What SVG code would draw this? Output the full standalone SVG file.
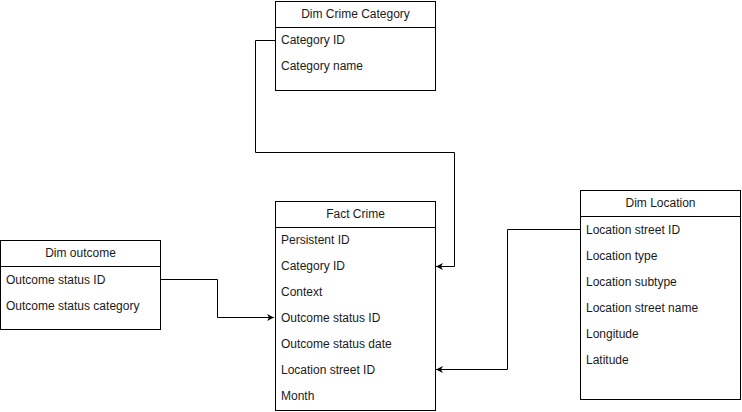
<svg xmlns="http://www.w3.org/2000/svg" width="742" height="412" viewBox="0 0 742 412">
<style>
.box{fill:#fff;stroke:#000;stroke-width:1}
.sep{stroke:#000;stroke-width:1}
text{font-family:"Liberation Sans",Arial,sans-serif;font-size:12px;fill:#1a1a1a}
.h{text-anchor:middle}
.c{fill:none;stroke:#000;stroke-width:1}
</style>
<defs>
<marker id="arr" markerWidth="8" markerHeight="8" refX="7" refY="4" orient="auto" markerUnits="userSpaceOnUse">
<path d="M0,0.5 L7,4 L0,7.5 L2,4 Z" fill="#000"/>
</marker>
</defs>
<g id="connectors">
<path class="c" d="M275.5,40.5 H255.5 V152.5 H454.5 V266.5 H436" marker-end="url(#arr)"/>
<path class="c" d="M160.5,279.5 H217.5 V317.5 H274" marker-end="url(#arr)"/>
<path class="c" d="M580.5,229.5 H507.5 V369.5 H436" marker-end="url(#arr)"/>
</g>
<g id="dim-crime-category">
<rect class="box" x="275.5" y="1.5" width="160" height="89"/>
<line class="sep" x1="275.5" y1="27.5" x2="435.5" y2="27.5"/>
<text class="h" x="355.5" y="18">Dim Crime Category</text>
<text x="281" y="44">Category ID</text>
<text x="281" y="70">Category name</text>
</g>
<g id="fact-crime">
<rect class="box" x="275.5" y="201.5" width="160" height="209"/>
<line class="sep" x1="275.5" y1="227.5" x2="435.5" y2="227.5"/>
<text class="h" x="355.5" y="218">Fact Crime</text>
<text x="281" y="244">Persistent ID</text>
<text x="281" y="270">Category ID</text>
<text x="281" y="296">Context</text>
<text x="281" y="322">Outcome status ID</text>
<text x="281" y="348">Outcome status date</text>
<text x="281" y="374">Location street ID</text>
<text x="281" y="400">Month</text>
</g>
<g id="dim-outcome">
<rect class="box" x="0.5" y="240.5" width="160" height="89"/>
<line class="sep" x1="0.5" y1="266.5" x2="160.5" y2="266.5"/>
<text class="h" x="80.5" y="257">Dim outcome</text>
<text x="6" y="284">Outcome status ID</text>
<text x="6" y="310">Outcome status category</text>
</g>
<g id="dim-location">
<rect class="box" x="580.5" y="190.5" width="160" height="209"/>
<line class="sep" x1="580.5" y1="216.5" x2="740.5" y2="216.5"/>
<text class="h" x="660.5" y="207">Dim Location</text>
<text x="586" y="234">Location street ID</text>
<text x="586" y="260">Location type</text>
<text x="586" y="286">Location subtype</text>
<text x="586" y="312">Location street name</text>
<text x="586" y="338">Longitude</text>
<text x="586" y="364">Latitude</text>
</g>
</svg>
